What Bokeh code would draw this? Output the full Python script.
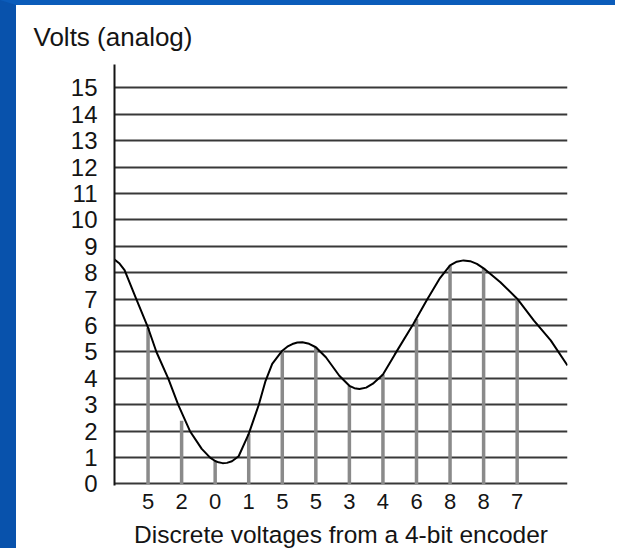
from bokeh.plotting import figure
from bokeh.models import FixedTicker, Range1d
from bokeh.embed import file_html
from bokeh.resources import INLINE

# analog curve (time in sample steps, volts)
curve_t = [0, 0.15, 0.3, 0.65, 1.0, 1.25, 1.6, 1.9, 2.25, 2.6, 2.85, 3.0, 3.1, 3.22, 3.35,
           3.5, 3.7, 4.0, 4.3, 4.5, 4.7, 5.0, 5.15, 5.3, 5.45, 5.6, 5.8, 6.0, 6.3, 6.7,
           7.0, 7.15, 7.3, 7.5, 7.7, 8.0, 8.35, 8.9, 9.3, 9.7, 10.0, 10.2, 10.4, 10.6,
           10.8, 11.0, 11.5, 12.0, 12.5, 13.0, 13.5]
curve_v = [8.5, 8.35, 8.1, 7.0, 5.92, 5.0, 4.0, 3.0, 2.0, 1.33, 1.0, 0.87, 0.82, 0.79, 0.8,
           0.86, 1.05, 1.9, 3.0, 3.9, 4.55, 5.05, 5.2, 5.3, 5.36, 5.37, 5.31, 5.18, 4.8, 4.1,
           3.72, 3.63, 3.6, 3.65, 3.8, 4.15, 4.9, 6.05, 6.95, 7.8, 8.28, 8.42, 8.47, 8.44,
           8.34, 8.17, 7.64, 7.02, 6.19, 5.44, 4.49]

# sampling instants and sampled analog values
sample_t = [1, 2, 3, 4, 5, 6, 7, 8, 9, 10, 11, 12]
sample_v = [5.92, 2.4, 0.87, 1.9, 5.05, 5.18, 3.72, 4.15, 6.25, 8.28, 8.17, 7.02]
# discrete codes printed under the samples
codes = ["5", "2", "0", "1", "5", "5", "3", "4", "6", "8", "8", "7"]
y_ticks = list(range(0, 16))

FONT = "Liberation Sans"
INK = "#141414"

p = figure(width=615, height=548, output_backend="svg", toolbar_location=None,
           x_range=Range1d(0, 13.5), y_range=Range1d(-0.057, 15.89),
           min_border_left=98, min_border_right=64, min_border_top=59,
           min_border_bottom=68, title="Volts (analog)",
           styles={"border-left": "16px solid #0852ac",
                   "border-top": "5px solid #0b5cba"})
p.outline_line_color = None
p.background_fill_color = "white"
p.border_fill_color = "white"

p.title.text_font = FONT
p.title.text_font_size = "26px"
p.title.text_font_style = "normal"
p.title.text_color = INK
p.title.align = "left"
p.title.offset = -81
p.title.standoff = 25

# y axis
ya = p.yaxis[0]
ya.ticker = FixedTicker(ticks=y_ticks)
ya.major_tick_line_color = None
ya.minor_tick_line_color = None
ya.axis_line_color = INK
ya.axis_line_width = 2
ya.major_label_text_font = FONT
ya.major_label_text_font_size = "24px"
ya.major_label_text_color = INK
ya.major_label_standoff = 11

# x axis
xa = p.xaxis[0]
xa.ticker = FixedTicker(ticks=sample_t)
xa.major_label_overrides = {t: c for t, c in zip(sample_t, codes)}
xa.major_tick_line_color = None
xa.minor_tick_line_color = None
xa.axis_line_color = None
xa.major_label_text_font = FONT
xa.major_label_text_font_size = "22px"
xa.major_label_text_color = INK
xa.major_label_standoff = 2
xa.axis_label = "Discrete voltages from a 4-bit encoder"
xa.axis_label_text_font = FONT
xa.axis_label_text_font_size = "24.5px"
xa.axis_label_text_font_style = "normal"
xa.axis_label_text_color = INK
xa.axis_label_standoff = 9

# grid: horizontal levels only
p.xgrid.visible = False
p.ygrid.ticker = FixedTicker(ticks=y_ticks)
p.ygrid.grid_line_color = "#383838"
p.ygrid.grid_line_width = 2

# sample bars
p.segment(x0=sample_t, y0=[0] * len(sample_t), x1=sample_t, y1=sample_v,
          line_color="#8a8a8a", line_width=3.5)

# analog signal
p.line(curve_t, curve_v, line_color="black", line_width=2)

open("out.html", "w").write(file_html(p, INLINE))
